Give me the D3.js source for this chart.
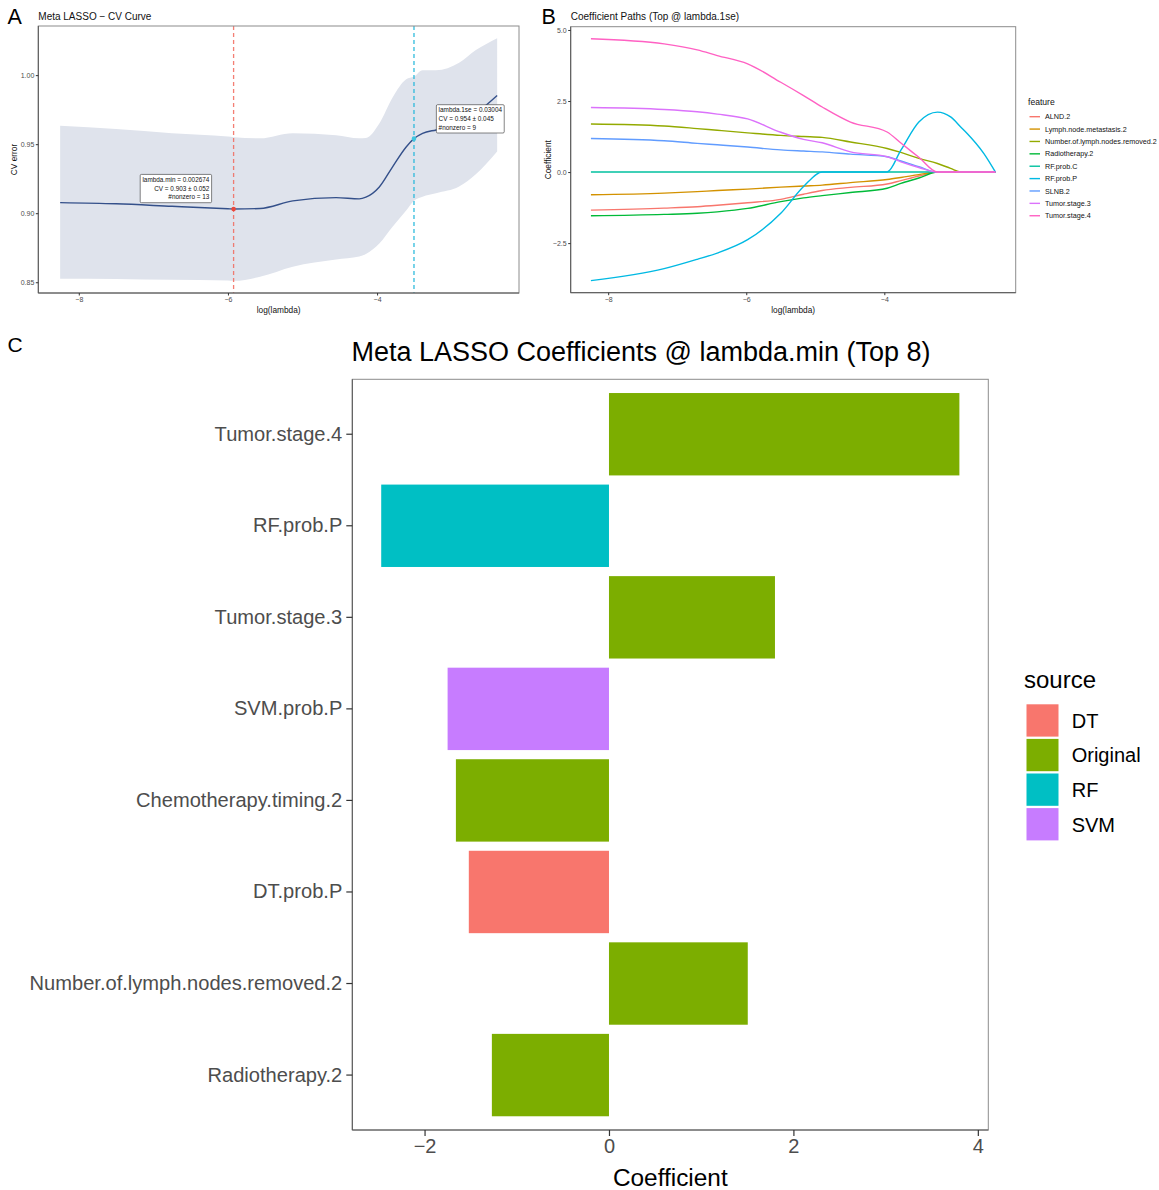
<!DOCTYPE html>
<html>
<head>
<meta charset="utf-8">
<script src="https://cdn.jsdelivr.net/npm/d3@7"></script>
<style>
  html, body { margin: 0; padding: 0; background: #fff; }
  svg { display: block; font-family: "Liberation Sans", Arial, Helvetica, sans-serif; }
</style>
</head>
<body>
<svg id="fig" width="1159" height="1190"></svg>
<script>
// ---------- Panel A: cross-validation curve ----------
const cvLogLambda = [-8.25, -7.5, -6.75, -6.0, -5.92, -5.57, -5.13, -4.55, -4.24, -4.15, -3.97, -3.79, -3.61, -3.505, -3.39, -3.21, -2.90, -2.68, -2.39];
const cvMean  = [0.9077, 0.9068, 0.9050, 0.9032, 0.9030, 0.9034, 0.9089, 0.9113, 0.9104, 0.9116, 0.9190, 0.9338, 0.9480, 0.9540, 0.9578, 0.9603, 0.9640, 0.9720, 0.9853];
const cvUpper = [0.9634, 0.9610, 0.9580, 0.9555, 0.9550, 0.9543, 0.9580, 0.9565, 0.9543, 0.9545, 0.9650, 0.9840, 0.9970, 0.9990, 1.0036, 1.0036, 1.0090, 1.0180, 1.0268];
const cvLower = [0.8526, 0.8524, 0.8518, 0.8512, 0.8510, 0.8540, 0.8613, 0.8665, 0.8686, 0.8705, 0.8780, 0.8903, 0.9020, 0.9090, 0.9120, 0.9145, 0.9193, 0.9280, 0.9447];
const lambdaMin = 0.002674, cvAtMin = 0.903, seAtMin = 0.052, nzAtMin = 13;
const lambda1se = 0.03004, cvAt1se = 0.954, seAt1se = 0.045, nzAt1se = 9;
const cvYTicks = [0.85, 0.90, 0.95, 1.00];
const logLambdaTicks = [-8, -6, -4];

// ---------- Panel B: coefficient paths ----------
const pathLogLambda = [-8.25, -7.19, -6.71, -6.42, -5.98, -5.50, -5.17, -4.90, -4.49, -3.96, -3.76, -3.50, -3.23, -3.04, -2.89, -2.80, -2.56, -2.39];
const pathFeatures = ["ALND.2", "Lymph.node.metastasis.2", "Number.of.lymph.nodes.removed.2", "Radiotherapy.2", "RF.prob.C", "RF.prob.P", "SLNB.2", "Tumor.stage.3", "Tumor.stage.4"];
const pathALND2      = [-1.34, -1.27, -1.22, -1.17, -1.08, -0.96, -0.78, -0.65, -0.54, -0.42, -0.30, -0.14, 0, 0, 0, 0, 0, 0];
const pathLymphMeta2 = [-0.80, -0.74, -0.69, -0.65, -0.60, -0.53, -0.49, -0.46, -0.37, -0.26, -0.19, -0.09, 0, 0, 0, 0, 0, 0];
const pathNumNodes2  = [1.69, 1.62, 1.53, 1.47, 1.38, 1.29, 1.25, 1.22, 1.06, 0.83, 0.69, 0.48, 0.30, 0.13, 0, 0, 0, 0];
const pathRadio2     = [-1.54, -1.49, -1.45, -1.40, -1.28, -1.04, -0.91, -0.83, -0.72, -0.57, -0.40, -0.21, 0, 0, 0, 0, 0, 0];
const pathRFprobC    = [0, 0, 0, 0, 0, 0, 0, 0, 0, 0, 0, 0, 0, 0, 0, 0, 0, 0];
const pathRFprobP    = [-3.82, -3.40, -3.07, -2.85, -2.38, -1.45, -0.51, 0, 0, 0, 0.77, 1.76, 2.11, 1.94, 1.58, 1.36, 0.66, 0];
const pathSLNB2      = [1.18, 1.10, 1.01, 0.96, 0.88, 0.78, 0.74, 0.71, 0.63, 0.54, 0.39, 0.19, 0, 0, 0, 0, 0, 0];
const pathTumor3     = [2.27, 2.20, 2.12, 2.04, 1.87, 1.40, 1.15, 1.03, 0.71, 0.54, 0.36, 0.16, 0, 0, 0, 0, 0, 0];
const pathTumor4     = [4.69, 4.51, 4.30, 4.10, 3.81, 3.16, 2.69, 2.29, 1.76, 1.41, 1.02, 0.52, 0, 0, 0, 0, 0, 0];
const pathColors = ["#F8766D", "#D39200", "#93AA00", "#00BA38", "#00C19F", "#00B9E3", "#619CFF", "#DB72FB", "#FF61C3"];
const pathYTicks = [-2.5, 0.0, 2.5, 5.0];

// ---------- Panel C: coefficients at lambda.min ----------
const coefFeatures = ["Tumor.stage.4", "RF.prob.P", "Tumor.stage.3", "SVM.prob.P", "Chemotherapy.timing.2", "DT.prob.P", "Number.of.lymph.nodes.removed.2", "Radiotherapy.2"];
const coefValues   = [3.80, -2.47, 1.80, -1.75, -1.66, -1.52, 1.505, -1.27];
const coefSources  = ["Original", "RF", "Original", "SVM", "Original", "DT", "Original", "Original"];
const sourceLevels = ["DT", "Original", "RF", "SVM"];
const sourceColors = ["#F8766D", "#7CAE00", "#00BFC4", "#C77CFF"];
const coefTicks = [-2, 0, 2, 4];

const svg = d3.select("#fig");
const minus = s => String(s).replace("-", "\u2212");
const TICK_COL = "#4D4D4D";

// expand a numeric extent by 5% on each side (ggplot-style)
function expand(lo, hi, f = 0.05) { const d = (hi - lo) * f; return [lo - d, hi + d]; }

// draw a panel frame plus axis lines
function frame(g, x0, y0, x1, y1) {
  g.append("rect").attr("x", x0).attr("y", y0).attr("width", x1 - x0).attr("height", y1 - y0)
    .attr("fill", "none").attr("stroke", "#8C8C8C").attr("stroke-width", 1);
  g.append("line").attr("x1", x0).attr("x2", x1).attr("y1", y1).attr("y2", y1).attr("stroke", "#555").attr("stroke-width", 1);
  g.append("line").attr("x1", x0).attr("x2", x0).attr("y1", y0).attr("y2", y1).attr("stroke", "#555").attr("stroke-width", 1);
}

function styleAxis(sel, fontSize) {
  sel.select(".domain").remove();
  sel.selectAll(".tick line").attr("stroke", "#333");
  sel.selectAll(".tick text").attr("fill", TICK_COL).attr("font-size", fontSize).attr("font-family", "Liberation Sans, Arial, sans-serif");
}

// ====================== Panel A ======================
(function () {
  const L = 38.3, R = 519, T = 26, B = 293;
  const x = d3.scaleLinear().domain(expand(d3.min(cvLogLambda), d3.max(cvLogLambda))).range([L, R]);
  const y = d3.scaleLinear().domain(expand(d3.min(cvLower), d3.max(cvUpper))).range([B, T]);
  const g = svg.append("g");

  const rows = cvLogLambda.map((v, i) => ({ x: v, m: cvMean[i], u: cvUpper[i], l: cvLower[i] }));
  g.append("path").datum(rows)
    .attr("d", d3.area().x(d => x(d.x)).y0(d => y(d.l)).y1(d => y(d.u)).curve(d3.curveMonotoneX))
    .attr("fill", "#DFE3EC");

  const xMin = Math.log(lambdaMin), x1se = Math.log(lambda1se);
  g.append("line").attr("x1", x(xMin)).attr("x2", x(xMin)).attr("y1", T).attr("y2", B)
    .attr("stroke", "#F2695C").attr("stroke-opacity", 0.85).attr("stroke-width", 1.3).attr("stroke-dasharray", "4,3");
  g.append("line").attr("x1", x(x1se)).attr("x2", x(x1se)).attr("y1", T).attr("y2", B)
    .attr("stroke", "#1FB6DA").attr("stroke-width", 1.2).attr("stroke-dasharray", "4,3");

  g.append("path").datum(rows)
    .attr("d", d3.line().x(d => x(d.x)).y(d => y(d.m)).curve(d3.curveMonotoneX))
    .attr("fill", "none").attr("stroke", "#34508A").attr("stroke-width", 1.4);

  g.append("circle").attr("cx", x(xMin)).attr("cy", y(cvAtMin)).attr("r", 2.3).attr("fill", "#E8473C");
  g.append("circle").attr("cx", x(x1se)).attr("cy", y(cvAt1se)).attr("r", 2.3).attr("fill", "#3EC5DF");

  frame(g, L, T, R, B);

  const xa = g.append("g").attr("transform", `translate(0,${B})`)
    .call(d3.axisBottom(x).tickValues(logLambdaTicks).tickSize(2.5).tickPadding(1.5).tickFormat(d => minus(d)));
  styleAxis(xa, 7);
  const ya = g.append("g").attr("transform", `translate(${L},0)`)
    .call(d3.axisLeft(y).tickValues(cvYTicks).tickSize(2.5).tickPadding(1.5).tickFormat(d3.format(".2f")));
  styleAxis(ya, 7);

  // value labels
  function label(lines, px, py, anchorRight) {
    const fs = 6.4, lh = 8.6, padX = 2.2, padY = 2.5;
    const lg = g.append("g");
    const texts = lines.map((s, i) => lg.append("text").text(s).attr("font-size", fs).attr("fill", "#111")
      .attr("y", py + (i - (lines.length - 1) / 2) * lh).attr("dy", "0.35em"));
    const w = d3.max(texts, t => t.node().getComputedTextLength());
    const bx = anchorRight ? px - w - 2 * padX : px;
    texts.forEach(t => {
      if (anchorRight) t.attr("x", px - padX).attr("text-anchor", "end");
      else t.attr("x", px + padX);
    });
    const h = lines.length * lh + padY;
    lg.insert("rect", "text").attr("x", bx).attr("y", py - h / 2).attr("width", w + 2 * padX).attr("height", h)
      .attr("rx", 1.2).attr("fill", "#fff").attr("stroke", "#333").attr("stroke-width", 0.6);
  }
  label([`lambda.min = ${lambdaMin.toFixed(6)}`, `CV = ${cvAtMin.toFixed(3)} \u00B1 ${seAtMin.toFixed(3)}`, `#nonzero = ${nzAtMin}`],
        x(xMin) - 22, y(cvAtMin) - 20.5, true);
  label([`lambda.1se = ${lambda1se.toFixed(5)}`, `CV = ${cvAt1se.toFixed(3)} \u00B1 ${seAt1se.toFixed(3)}`, `#nonzero = ${nzAt1se}`],
        x(x1se) + 22.4, y(cvAt1se) - 19.8, false);

  g.append("text").text("Meta LASSO \u2212 CV Curve").attr("x", L).attr("y", 19.5).attr("font-size", 10).attr("fill", "#111");
  g.append("text").text("A").attr("x", 7.5).attr("y", 24).attr("font-size", 21.5).attr("fill", "#000");
  g.append("text").text("log(lambda)").attr("x", (L + R) / 2).attr("y", 313).attr("text-anchor", "middle").attr("font-size", 8.3).attr("fill", "#111");
  g.append("text").text("CV error").attr("transform", `translate(17,${(T + B) / 2}) rotate(-90)`).attr("text-anchor", "middle").attr("font-size", 8.3).attr("fill", "#111");
})();

// ====================== Panel B ======================
(function () {
  const L = 570.7, R = 1015.7, T = 26.7, B = 292.7;
  const series = [pathALND2, pathLymphMeta2, pathNumNodes2, pathRadio2, pathRFprobC, pathRFprobP, pathSLNB2, pathTumor3, pathTumor4];
  const allVals = series.flat();
  const x = d3.scaleLinear().domain(expand(d3.min(pathLogLambda), d3.max(pathLogLambda))).range([L, R]);
  const y = d3.scaleLinear().domain(expand(d3.min(allVals), d3.max(allVals))).range([B, T]);
  const color = d3.scaleOrdinal().domain(pathFeatures).range(pathColors);
  const g = svg.append("g");

  const line = d3.line().x(d => x(d[0])).y(d => y(d[1])).curve(d3.curveMonotoneX);
  pathFeatures.forEach((f, i) => {
    g.append("path").datum(pathLogLambda.map((v, j) => [v, series[i][j]]))
      .attr("d", line).attr("fill", "none").attr("stroke", color(f)).attr("stroke-width", 1.4);
  });

  frame(g, L, T, R, B);
  const xa = g.append("g").attr("transform", `translate(0,${B})`)
    .call(d3.axisBottom(x).tickValues(logLambdaTicks).tickSize(2.5).tickPadding(1.5).tickFormat(d => minus(d)));
  styleAxis(xa, 7);
  const ya = g.append("g").attr("transform", `translate(${L},0)`)
    .call(d3.axisLeft(y).tickValues(pathYTicks).tickSize(2.5).tickPadding(1.5).tickFormat(d => minus(d3.format(".1f")(d))));
  styleAxis(ya, 7);

  g.append("text").text("Coefficient Paths (Top @ lambda.1se)").attr("x", L).attr("y", 19.5).attr("font-size", 10).attr("fill", "#111");
  g.append("text").text("B").attr("x", 541.5).attr("y", 24).attr("font-size", 21.5).attr("fill", "#000");
  g.append("text").text("log(lambda)").attr("x", (L + R) / 2).attr("y", 313).attr("text-anchor", "middle").attr("font-size", 8.3).attr("fill", "#111");
  g.append("text").text("Coefficient").attr("transform", `translate(551,${(T + B) / 2}) rotate(-90)`).attr("text-anchor", "middle").attr("font-size", 8.3).attr("fill", "#111");

  // legend
  const lg = g.append("g").attr("transform", "translate(1028,0)");
  lg.append("text").text("feature").attr("x", 0).attr("y", 105).attr("font-size", 8.6).attr("fill", "#111");
  pathFeatures.forEach((f, i) => {
    const cy = 116.7 + i * 12.38;
    lg.append("line").attr("x1", 1.5).attr("x2", 12).attr("y1", cy).attr("y2", cy).attr("stroke", color(f)).attr("stroke-width", 1.4);
    lg.append("text").text(f).attr("x", 17).attr("y", cy).attr("dy", "0.35em").attr("font-size", 7.2).attr("fill", "#111");
  });
})();

// ====================== Panel C ======================
(function () {
  const L = 352.3, R = 988.3, T = 379.3, B = 1130;
  const x = d3.scaleLinear().domain(expand(Math.min(0, d3.min(coefValues)), Math.max(0, d3.max(coefValues)))).range([L, R]);
  const y = d3.scaleBand().domain(coefFeatures).range([T, B]).paddingInner(0.1).paddingOuter(0.15);
  const color = d3.scaleOrdinal().domain(sourceLevels).range(sourceColors);
  const g = svg.append("g");

  g.selectAll("rect.bar").data(coefFeatures).join("rect").attr("class", "bar")
    .attr("x", (d, i) => x(Math.min(0, coefValues[i])))
    .attr("width", (d, i) => Math.abs(x(coefValues[i]) - x(0)))
    .attr("y", d => y(d)).attr("height", y.bandwidth())
    .attr("fill", (d, i) => color(coefSources[i]));

  frame(g, L, T, R, B);

  const xa = g.append("g").attr("transform", `translate(0,${B})`)
    .call(d3.axisBottom(x).tickValues(coefTicks).tickSize(6).tickPadding(3).tickFormat(d => minus(d)));
  styleAxis(xa, 20);
  xa.selectAll(".tick line").attr("stroke-width", 1.2);
  const ya = g.append("g").attr("transform", `translate(${L},0)`)
    .call(d3.axisLeft(y).tickSize(6).tickPadding(4));
  styleAxis(ya, 20.1);
  ya.selectAll(".tick line").attr("stroke-width", 1.2);

  g.append("text").text("Meta LASSO Coefficients @ lambda.min (Top 8)").attr("x", 641).attr("y", 361)
    .attr("text-anchor", "middle").attr("font-size", 27).attr("fill", "#000");
  g.append("text").text("C").attr("x", 7.5).attr("y", 352).attr("font-size", 21).attr("fill", "#000");
  g.append("text").text("Coefficient").attr("x", (L + R) / 2).attr("y", 1186).attr("text-anchor", "middle")
    .attr("font-size", 24.4).attr("fill", "#000");

  // legend
  const lg = g.append("g").attr("transform", "translate(1024,0)");
  lg.append("text").text("source").attr("x", 0).attr("y", 688).attr("font-size", 24).attr("fill", "#000");
  sourceLevels.forEach((s, i) => {
    const top = 704.3 + i * 34.6;
    lg.append("rect").attr("x", 2.5).attr("y", top).attr("width", 32).attr("height", 32.3).attr("fill", color(s));
    lg.append("text").text(s).attr("x", 47.7).attr("y", top + 16.2).attr("dy", "0.36em").attr("font-size", 20).attr("fill", "#000");
  });
})();
</script>
</body>
</html>
